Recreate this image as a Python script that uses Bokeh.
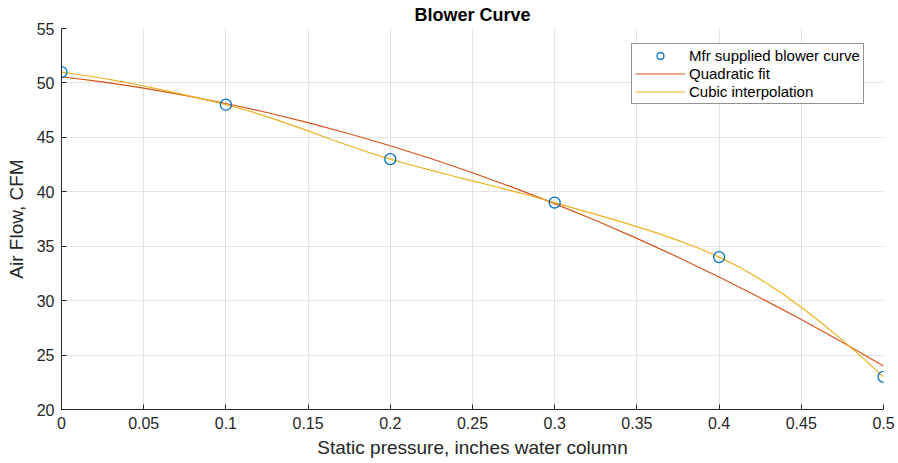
from bokeh.plotting import figure
from bokeh.models import Legend, LegendItem, FixedTicker, Range1d, Title
from bokeh.embed import file_html
from bokeh.resources import INLINE

# Manufacturer supplied points
pressure = [0.0, 0.1, 0.2, 0.3, 0.4, 0.5]
airflow = [51, 48, 43, 39, 34, 23]

# Quadratic fit at 0.025 steps
quad_x = [0.0, 0.025, 0.05, 0.075, 0.1, 0.125, 0.15, 0.175, 0.2, 0.225, 0.25,
          0.275, 0.3, 0.325, 0.35, 0.375, 0.4, 0.425, 0.45, 0.475, 0.5]
quad_y = [50.57, 50.09, 49.52, 48.86, 48.11, 47.28, 46.35, 45.33, 44.23, 43.03, 41.75,
          40.38, 38.91, 37.36, 35.72, 33.99, 32.17, 30.26, 28.26, 26.18, 24.00]

# Cubic interpolation at 0.0125 steps
cubic_x = [0.0, 0.0125, 0.025, 0.0375, 0.05, 0.0625, 0.075, 0.0875,
           0.1, 0.1125, 0.125, 0.1375, 0.15, 0.1625, 0.175, 0.1875,
           0.2, 0.2125, 0.225, 0.2375, 0.25, 0.2625, 0.275, 0.2875,
           0.3, 0.3125, 0.325, 0.3375, 0.35, 0.3625, 0.375, 0.3875,
           0.4, 0.4125, 0.425, 0.4375, 0.45, 0.4625, 0.475, 0.4875, 0.5]
cubic_y = [51.0, 50.73, 50.43, 50.09, 49.72, 49.32, 48.90, 48.46,
           48.0, 47.49, 46.90, 46.26, 45.59, 44.90, 44.23, 43.59,
           43.0, 42.46, 41.96, 41.47, 41.0, 40.53, 40.04, 39.54,
           39.0, 38.45, 37.92, 37.37, 36.80, 36.20, 35.54, 34.81,
           34.0, 33.06, 31.97, 30.74, 29.39, 27.93, 26.37, 24.72, 23.0]

x_ticks = [0, 0.05, 0.1, 0.15, 0.2, 0.25, 0.3, 0.35, 0.4, 0.45, 0.5]
y_ticks = [20, 25, 30, 35, 40, 45, 50, 55]
title_text = "Blower Curve"

FONT = "Liberation Sans"
AX = "#262626"

p = figure(width=898, height=463, output_backend="svg", toolbar_location=None,
           x_range=Range1d(0, 0.5), y_range=Range1d(20, 55),
           min_border_left=61, min_border_right=15, min_border_top=28, min_border_bottom=54,
           background_fill_color="white", border_fill_color="white")
p.outline_line_color = None

# small blank spacer between the frame and the title
p.add_layout(Title(text=" ", text_font_size="2px", standoff=0, offset=0), "above")

p.title.text = title_text
p.title.align = "center"
p.title.text_font = FONT
p.title.text_font_size = "18px"
p.title.text_font_style = "bold"
p.title.text_color = "black"
p.title.offset = 0
p.title.standoff = 0

for ax in (p.xaxis[0], p.yaxis[0]):
    ax.axis_line_color = AX
    ax.axis_line_width = 1
    ax.major_tick_in = 5
    ax.major_tick_out = 0
    ax.minor_tick_line_color = None
    ax.major_tick_line_color = AX
    ax.major_label_text_font = FONT
    ax.major_label_text_font_size = "16px"
    ax.major_label_text_color = AX
    ax.axis_label_text_font = FONT
    ax.axis_label_text_font_size = "19px"
    ax.axis_label_text_font_style = "normal"
    ax.axis_label_text_color = AX
    ax.major_label_standoff = 7

p.xaxis.ticker = FixedTicker(ticks=x_ticks)
p.yaxis.ticker = FixedTicker(ticks=y_ticks)
p.xaxis.major_label_overrides = {t: ("%g" % t) for t in x_ticks}
p.xaxis.axis_label = "Static pressure, inches water column"
p.yaxis.axis_label = "Air Flow, CFM"
p.xaxis.axis_label_standoff = 5
p.yaxis.axis_label_standoff = 7

p.grid.grid_line_color = "#e3e3e3"
p.grid.grid_line_width = 1

r_quad = p.line(quad_x, quad_y, line_color="#D95319", line_width=1.2)
r_cubic = p.line(cubic_x, cubic_y, line_color="#EDB120", line_width=1.2)
r_pts = p.scatter(pressure, airflow, marker="circle", size=11, fill_color=None,
                  line_color="#0072BD", line_width=1.3)

legend = Legend(items=[
    LegendItem(label="Mfr supplied blower curve", renderers=[r_pts]),
    LegendItem(label="Quadratic fit", renderers=[r_quad]),
    LegendItem(label="Cubic interpolation", renderers=[r_cubic]),
], location=(570, 305))
legend.label_text_font = FONT
legend.label_text_font_size = "15px"
legend.label_text_color = "black"
legend.label_height = 17
legend.glyph_width = 50
legend.glyph_height = 17
legend.spacing = 1
legend.padding = 3
legend.margin = 0
legend.label_standoff = 4
legend.border_line_color = AX
legend.border_line_width = 1
legend.background_fill_alpha = 1
p.add_layout(legend, "center")

open("out.html", "w").write(file_html(p, INLINE))
